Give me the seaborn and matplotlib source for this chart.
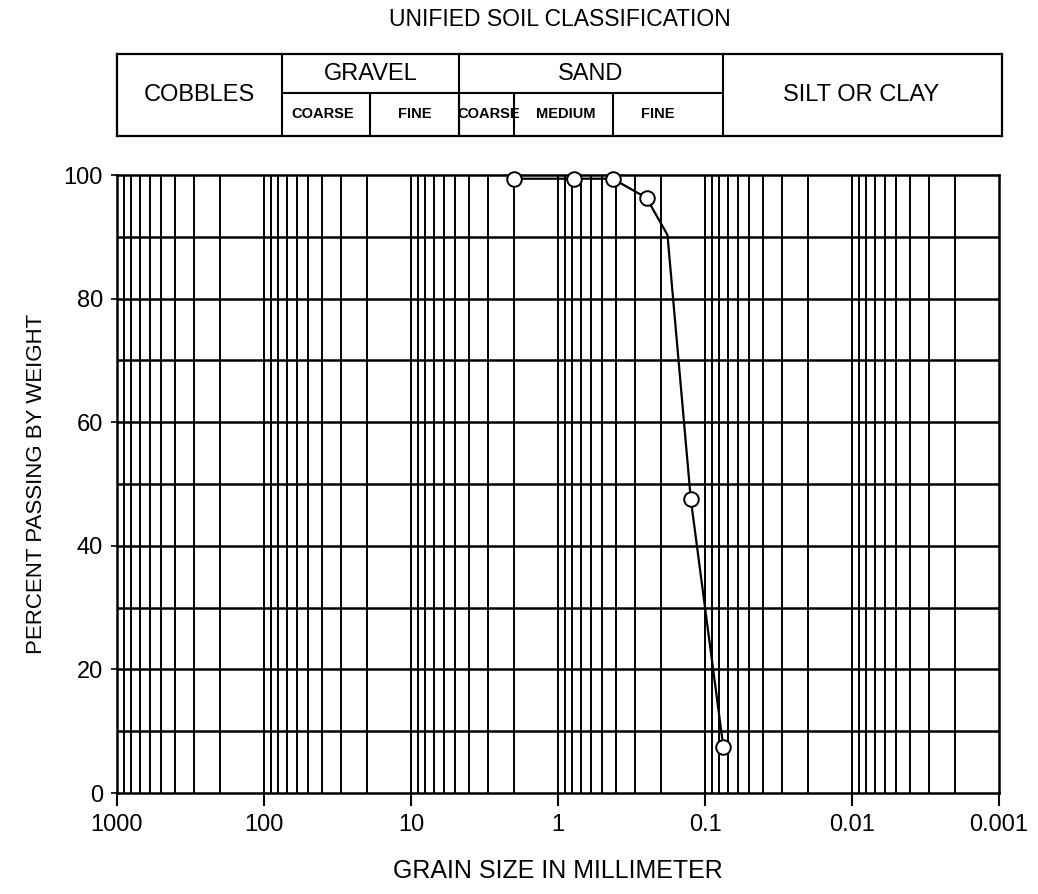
import matplotlib
matplotlib.use("Agg")
import matplotlib.pyplot as plt
import seaborn as sns
import numpy as np
import pandas as pd

# ---- data ----
sample_size_mm = [2.0, 0.78, 0.425, 0.25, 0.125, 0.075]
sample_passing = [99.4, 99.4, 99.4, 96.3, 47.6, 7.4]
# drawn curve vertices (includes an unmarked bend near 0.18 mm)
curve_size_mm = [2.0, 0.78, 0.425, 0.25, 0.18, 0.125, 0.075]
curve_passing = [99.4, 99.4, 99.4, 96.3, 90.3, 47.6, 7.4]

x_ticks = [1000, 100, 10, 1, 0.1, 0.01, 0.001]
x_tick_labels = ["1000", "100", "10", "1", "0.1", "0.01", "0.001"]
y_ticks = [0, 20, 40, 60, 80, 100]

# classification boundaries (mm) and labels
main_bounds = [1000, 75, 4.75, 0.075, 0.001]
main_labels = ["COBBLES", "GRAVEL", "SAND", "SILT OR CLAY"]
sub_bounds = [75, 19, 4.75, 2.0, 0.425, 0.075]
sub_labels = ["COARSE", "FINE", "COARSE", "MEDIUM", "FINE"]
sub_label_x = [40, 9.5, 2.95, 0.88, 0.21]

sns.set_theme(style="white")
plt.rcParams['font.family'] = ['Liberation Sans', 'DejaVu Sans']
plt.rcParams['text.color'] = 'black'
plt.rcParams['axes.labelcolor'] = 'black'
plt.rcParams['xtick.color'] = 'black'
plt.rcParams['ytick.color'] = 'black'

fig = plt.figure(figsize=(10.38, 8.94), dpi=100)
W, H = 1038, 894
def rect(l, t, r, b):
    return [l / W, 1 - b / H, (r - l) / W, (b - t) / H]

ax = fig.add_axes(rect(117, 175, 999, 793))

df_curve = pd.DataFrame({"size": curve_size_mm, "passing": curve_passing})
df_pts = pd.DataFrame({"size": sample_size_mm, "passing": sample_passing})

ax.set_xscale("log")
ax.set_xlim(1000, 0.001)
ax.set_ylim(0, 100)

# grid
for dec in range(-3, 3):
    for m in range(1, 10):
        v = m * 10.0 ** dec
        if 0.001 < v < 1000:
            ax.axvline(v, color="black", lw=1.4, zorder=1)
for yv in range(10, 100, 10):
    ax.axhline(yv, color="black", lw=1.8, zorder=1)

sns.lineplot(data=df_curve, x="size", y="passing", ax=ax, color="black",
             lw=1.6, sort=False, estimator=None, zorder=3)
sns.scatterplot(data=df_pts, x="size", y="passing", ax=ax, s=110,
                facecolor="white", edgecolor="black", linewidth=1.4, zorder=4,
                clip_on=False)

ax.set_xticks(x_ticks)
ax.set_xticklabels(x_tick_labels, fontsize=17)
ax.xaxis.set_minor_locator(matplotlib.ticker.NullLocator())
ax.set_yticks(y_ticks)
ax.set_yticklabels([str(v) for v in y_ticks], fontsize=17)
ax.tick_params(axis="x", direction="out", length=9, width=1.5, color="black", pad=6)
ax.tick_params(axis="y", direction="out", length=4, width=1.2, color="black", pad=6)
ax.tick_params(bottom=True, left=True)
for s in ax.spines.values():
    s.set_color("black")
    s.set_linewidth(1.8)
ax.set_xlabel("GRAIN SIZE IN MILLIMETER", fontsize=18, labelpad=17)
ax.set_ylabel("PERCENT PASSING BY WEIGHT", fontsize=16, labelpad=12)

# header table
hx = fig.add_axes(rect(117, 54, 1002, 136))
hx.set_xscale("log")
hx.set_xlim(1000, 0.001 * 10 ** (-3 / 147))
hx.set_ylim(0, 1)
hx.set_xticks([])
hx.set_yticks([])
hx.xaxis.set_minor_locator(matplotlib.ticker.NullLocator())
for s in hx.spines.values():
    s.set_color("black")
    s.set_linewidth(1.6)
mid = 0.52
for b in main_bounds[1:-1]:
    hx.axvline(b, color="black", lw=1.5)
hx.plot([75, 0.075], [mid, mid], color="black", lw=1.5)
for b in sub_bounds[1:-1]:
    hx.plot([b, b], [0, mid], color="black", lw=1.5)

def gmean(a, b):
    return np.sqrt(a * b)

for i, lab in enumerate(main_labels):
    xc = gmean(main_bounds[i], main_bounds[i + 1])
    if lab in ("COBBLES", "SILT OR CLAY"):
        hx.text(xc, 0.5, lab, ha="center", va="center", fontsize=17)
    else:
        hx.text(xc, 0.76, lab, ha="center", va="center", fontsize=17)
for xc, lab in zip(sub_label_x, sub_labels):
    hx.text(xc, 0.27, lab, ha="center", va="center", fontsize=10.5,
            fontweight="bold")

fig.text(560 / W, 1 - 20 / H, "UNIFIED SOIL CLASSIFICATION", ha="center",
         va="center", fontsize=16.5)

fig.savefig("out.png", dpi=100)
